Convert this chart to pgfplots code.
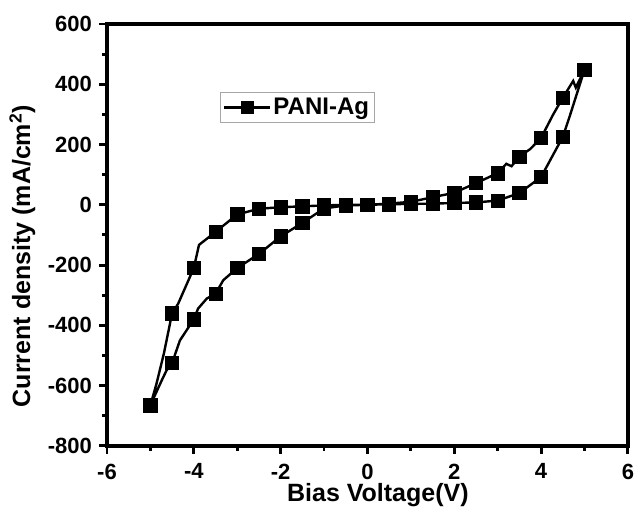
\documentclass[border=0pt]{standalone}
\usepackage{fontspec}
\setmainfont{Liberation Sans}
\usepackage{pgfplots}
\pgfplotsset{compat=1.18}
\usepackage{pgfplotstable}

% full sweep (line), traced as one closed loop
\pgfplotstableread{
x y
-5 -665
-4.74 -583
-4.63 -550
-4.5 -525
-4.32 -450
-4 -380
-3.9 -344
-3.7 -311
-3.5 -295
-3.32 -250
-3 -210
-2.5 -163
-2 -105
-1.5 -60
-1 -12
-0.5 -2
0 0
0.5 2
1 3
1.5 4
2 6
2.5 8
3 14
3.5 39
4 92
4.3 172
4.5 225
4.66 294
5 448
4.8 389
4.74 411
4.5 355
4.28 300
4 222
3.75 185
3.5 160
3.32 128
3.2 136
3 105
2.5 72
2 40
1.5 25
1 10
0.5 4
0 0
-0.5 0
-1 -2
-1.5 -5
-2 -8
-2.5 -13
-3 -32
-3.5 -90
-3.88 -133
-4 -210
-4.36 -328
-4.5 -360
-4.69 -494
-4.86 -594
-5 -665
}\sweep

% measured points (markers)
\pgfplotstableread{
x y
-5 -665
-4.5 -525
-4 -380
-3.5 -295
-3 -210
-2.5 -163
-2 -105
-1.5 -60
-1 -12
-0.5 -2
0 0
0.5 2
1 3
1.5 4
2 6
2.5 8
3 14
3.5 39
4 92
4.5 225
5 448
4.5 355
4 222
3.5 160
3 105
2.5 72
2 40
1.5 25
1 10
0.5 4
-0.5 0
-1 -2
-1.5 -5
-2 -8
-2.5 -13
-3 -32
-3.5 -90
-4 -210
-4.5 -360
}\points

\begin{document}
\begin{tikzpicture}
\begin{axis}[
    scale only axis, width=390.75pt, height=316.5pt,
    every axis/.append style={line width=2.6pt},
    xmin=-6, xmax=6, ymin=-800, ymax=600,
    xtick={-6,-4,...,6}, ytick={-800,-600,...,600},
    minor x tick num=1, minor y tick num=1,
    tick align=outside, tick pos=left,
    major tick length=6pt, minor tick length=3.5pt,
    every tick/.style={black, line width=2.2pt},
    /pgf/number format/assume math mode=true,
    xticklabel style={font=\bfseries\fontsize{16.5}{18}\selectfont, inner sep=0pt, yshift=-6pt},
    yticklabel style={font=\bfseries\fontsize{16.5}{18}\selectfont, inner sep=0pt, xshift=-4pt},
    xlabel={Bias Voltage(V)},
    ylabel={Current density (mA/cm\textsuperscript{2})},
    label style={font=\bfseries\fontsize{18.75}{20}\selectfont},
    xlabel style={at={(axis description cs:0.52,-0.0853)}, anchor=north, inner sep=0pt},
    ylabel style={at={(axis description cs:-0.1344,0.45)}, anchor=south, inner sep=0pt},
    legend style={at={(axis description cs:0.217,0.839)}, anchor=north west,
        draw=gray!70, line width=0.6pt, inner xsep=2pt, inner ysep=2.5pt,
        font=\bfseries\fontsize{18}{19}\selectfont},
    legend image code/.code={\draw[mark repeat=2,mark phase=2,#1]
        plot coordinates {(0pt,0pt) (17pt,0pt) (34pt,0pt)};},
]
\addlegendimage{black, line width=1.8pt, mark=square*, mark size=4.5pt, mark options={line width=0.5pt}}
\addlegendentry{PANI-Ag}
\addplot[black, line width=1.8pt, no markers, forget plot] table {\sweep};
\addplot[black, only marks, mark=square*, mark size=5pt, line width=0.5pt, forget plot] table {\points};
\end{axis}
\path ([xshift=-80.25pt, yshift=-48.75pt]current axis.south west)
  rectangle ([xshift=4.5pt, yshift=18pt]current axis.north east);
\end{tikzpicture}
\end{document}
